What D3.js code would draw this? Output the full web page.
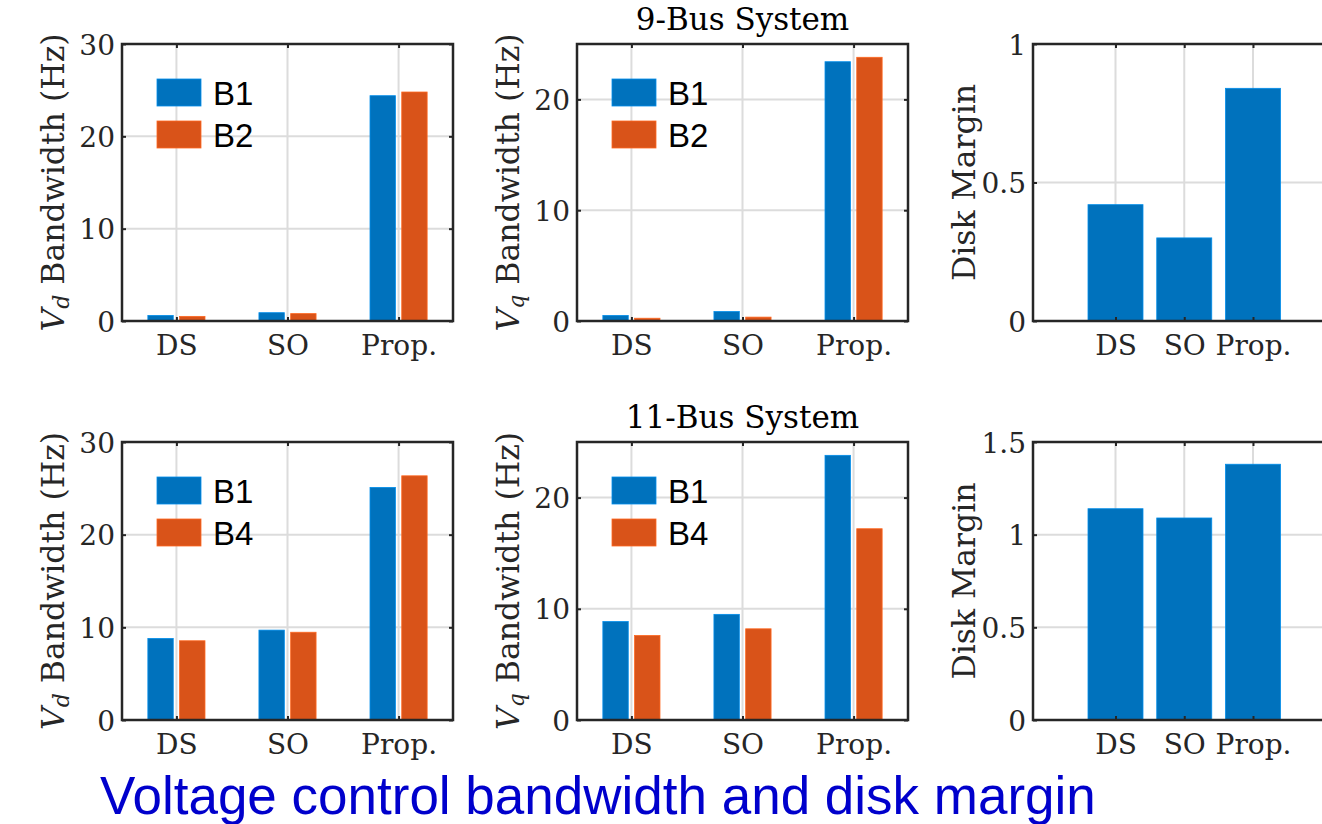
<!DOCTYPE html>
<html>
<head>
<meta charset="utf-8">
<script src="https://cdn.jsdelivr.net/npm/d3@7"></script>
<style>
  body { margin: 0; background: #fff; }
  svg { display: block; }
  .tick text { font-family: 'DejaVu Serif', serif; font-size: 28px; fill: #262626; }
  .tick line { stroke: #262626; stroke-width: 2; }
  .domain { display: none; }
</style>
</head>
<body>
<svg id="chart" width="1322" height="824"></svg>
<script>
const categories = ['DS', 'SO', 'Prop.']
const topNames = ['B1', 'B2']
const bottomNames = ['B1', 'B4']

// 9-bus system
const vdTopB1 = [0.6, 0.9, 24.4]
const vdTopB2 = [0.5, 0.8, 24.8]
const vqTopB1 = [0.5, 0.85, 23.4]
const vqTopB2 = [0.25, 0.35, 23.8]
const marginTop = [0.42, 0.30, 0.84]

// 11-bus system
const vdBottomB1 = [8.8, 9.7, 25.1]
const vdBottomB4 = [8.55, 9.47, 26.35]
const vqBottomB1 = [8.85, 9.5, 23.8]
const vqBottomB4 = [7.6, 8.2, 17.2]
const marginBottom = [1.14, 1.09, 1.38]

const vdTicks = [0, 10, 20, 30]
const vqTicks = [0, 10, 20]
const marginTopTicks = [0, 0.5, 1]
const marginBottomTicks = [0, 0.5, 1, 1.5]
const titles = ['9-Bus System', '11-Bus System']
const caption = 'Voltage control bandwidth and disk margin'

const blue = '#0072BD'
const orange = '#D95319'
const ink = '#262626'
const serif = "'DejaVu Serif', serif"
const sans = "'Liberation Sans', Arial, sans-serif"

const svg = d3.select('#chart')
svg.append('rect').attr('width', 1322).attr('height', 824).attr('fill', '#fff')

function yLabel (g, left, top, bottom, sub) {
  const t = g.append('text')
    .attr('transform', `translate(${left - 58},${(top + bottom) / 2}) rotate(-90)`)
    .attr('text-anchor', 'middle')
    .attr('font-family', serif).attr('font-size', 31.5).attr('fill', ink)
  if (sub) {
    t.append('tspan').attr('font-style', 'italic').text('V')
    t.append('tspan').attr('font-style', 'italic').attr('font-size', 22).attr('dy', 5).text(sub)
    t.append('tspan').attr('dy', -5).text(' Bandwidth (Hz)')
  } else {
    t.text('Disk Margin')
  }
}

function panel (opt) {
  const { left, right, top, bottom } = opt
  const g = svg.append('g')
  const x = d3.scaleLinear().domain(opt.xDomain).range([left, right])
  const y = d3.scaleLinear().domain([0, opt.yMax]).range([bottom, top])

  // grid
  g.selectAll('.gx').data(categories).join('line')
    .attr('x1', (d, i) => x(i + 1)).attr('x2', (d, i) => x(i + 1))
    .attr('y1', top).attr('y2', bottom)
    .attr('stroke', '#dcdcdc').attr('stroke-width', 2)
  g.selectAll('.gy').data(opt.yTicks).join('line')
    .attr('x1', left).attr('x2', right)
    .attr('y1', d => y(d)).attr('y2', d => y(d))
    .attr('stroke', '#dcdcdc').attr('stroke-width', 2)

  // bars
  const n = opt.series.length
  const groupWidth = n > 1 ? Math.min(0.8, n / (n + 1.5)) : 0.8
  const barWidth = n > 1 ? groupWidth / n * 0.8 : 0.8
  opt.series.forEach((s, k) => {
    const offset = n > 1 ? (k - (n - 1) / 2) * groupWidth / n : 0
    g.selectAll(null).data(s.values).join('rect')
      .attr('x', (d, i) => x(i + 1 + offset - barWidth / 2))
      .attr('width', x(barWidth) - x(0))
      .attr('y', d => y(d))
      .attr('height', d => y(0) - y(d))
      .attr('fill', s.color)
      .attr('stroke', d3.color(s.color).brighter(0.6)).attr('stroke-width', 0.8)
  })

  // axes, ticks pointing inwards
  const xAxis = d3.axisBottom(x).tickValues([1, 2, 3]).tickFormat(d => categories[d - 1])
    .tickSizeInner(-4).tickSizeOuter(0).tickPadding(9)
  g.append('g').attr('transform', `translate(0,${bottom})`).call(xAxis)
    .selectAll('text').attr('dy', '0.9em')
  g.append('g').attr('transform', `translate(0,${top})`)
    .call(d3.axisTop(x).tickValues([1, 2, 3]).tickFormat('').tickSizeInner(-4).tickSizeOuter(0))
  g.append('g').attr('transform', `translate(${left},0)`)
    .call(d3.axisLeft(y).tickValues(opt.yTicks).tickFormat(d3.format('')).tickSizeInner(-4).tickSizeOuter(0).tickPadding(7))
    .selectAll('text').attr('dy', '0.36em')
  g.append('g').attr('transform', `translate(${right},0)`)
    .call(d3.axisRight(y).tickValues(opt.yTicks).tickFormat('').tickSizeInner(-4).tickSizeOuter(0))

  g.append('rect').attr('x', left).attr('y', top)
    .attr('width', right - left).attr('height', bottom - top)
    .attr('fill', 'none').attr('stroke', ink).attr('stroke-width', 2.5)

  yLabel(g, left, top, bottom, opt.sub)

  if (opt.legend) {
    opt.series.forEach((s, k) => {
      g.append('rect').attr('x', left + 35).attr('y', top + 35 + k * 42)
        .attr('width', 44).attr('height', 27)
        .attr('fill', s.color).attr('stroke', d3.color(s.color).brighter(0.6)).attr('stroke-width', 0.8)
      g.append('text').attr('x', left + 91).attr('y', top + 61 + k * 42)
        .attr('font-family', sans).attr('font-size', 33).attr('fill', '#000').text(s.name)
    })
  }
  if (opt.title) {
    g.append('text').attr('x', (left + right) / 2).attr('y', top - 14)
      .attr('text-anchor', 'middle').attr('font-family', serif).attr('font-size', 31)
      .attr('fill', '#000').text(opt.title)
  }
}

const rows = [
  { top: 44, bottom: 321, names: topNames, vd: [vdTopB1, vdTopB2], vq: [vqTopB1, vqTopB2], dm: marginTop, dmMax: 1, dmTicks: marginTopTicks, title: titles[0] },
  { top: 442, bottom: 720, names: bottomNames, vd: [vdBottomB1, vdBottomB4], vq: [vqBottomB1, vqBottomB4], dm: marginBottom, dmMax: 1.5, dmTicks: marginBottomTicks, title: titles[1] }
]
const colors = [blue, orange]

rows.forEach(r => {
  panel({
    left: 122, right: 453, top: r.top, bottom: r.bottom, xDomain: [0.51, 3.49],
    yMax: 30, yTicks: vdTicks, sub: 'd', legend: true,
    series: r.vd.map((v, k) => ({ name: r.names[k], values: v, color: colors[k] }))
  })
  panel({
    left: 577, right: 908, top: r.top, bottom: r.bottom, xDomain: [0.51, 3.49],
    yMax: 25, yTicks: vqTicks, sub: 'q', legend: true, title: r.title,
    series: r.vq.map((v, k) => ({ name: r.names[k], values: v, color: colors[k] }))
  })
  panel({
    left: 1033, right: 1363, top: r.top, bottom: r.bottom, xDomain: [-0.2, 4.6],
    yMax: r.dmMax, yTicks: r.dmTicks,
    series: [{ name: 'DM', values: r.dm, color: blue }]
  })
})

svg.append('text').attr('x', 100).attr('y', 814)
  .attr('font-family', sans).attr('font-size', 53).attr('fill', '#0000CC')
  .text(caption)
</script>
</body>
</html>
